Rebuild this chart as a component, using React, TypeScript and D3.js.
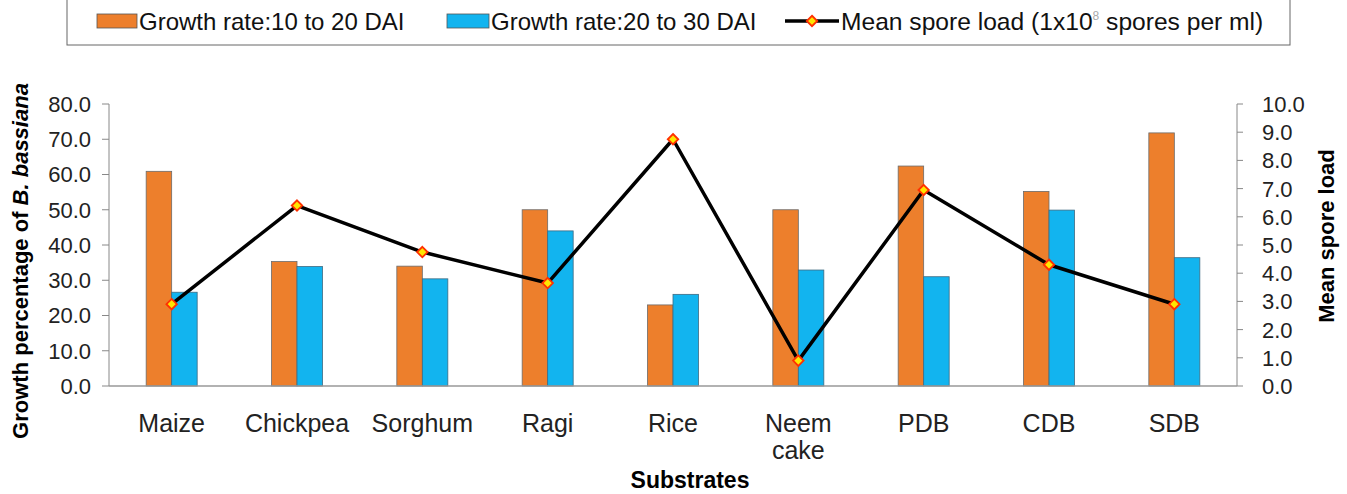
import React from "react";
import * as d3 from "d3";

const categories = ["Maize", "Chickpea", "Sorghum", "Ragi", "Rice", "Neem cake", "PDB", "CDB", "SDB"];
const growth10to20 = [60.9, 35.3, 34.0, 50.0, 23.0, 50.0, 62.4, 55.2, 71.8];
const growth20to30 = [26.6, 33.9, 30.4, 44.0, 26.0, 32.9, 31.0, 49.9, 36.4];
const sporeLoad = [2.9, 6.4, 4.75, 3.65, 8.75, 0.9, 6.95, 4.3, 2.9];
const leftTicks = [0, 10, 20, 30, 40, 50, 60, 70, 80];
const rightTicks = [0, 1, 2, 3, 4, 5, 6, 7, 8, 9, 10];

const W = 1347;
const H = 494;
const X0 = 109;
const X1 = 1237;
const Y0 = 386;
const Y1 = 104;
const ORANGE = "#ED7F2C";
const BLUE = "#12B4EF";
const FONT = "'Liberation Sans', Arial, sans-serif";

export default function App() {
  const x = d3.scaleBand<string>().domain(categories).range([X0, X1]).paddingInner(0).paddingOuter(0);
  const yL = d3.scaleLinear().domain([0, 80]).range([Y0, Y1]);
  const yR = d3.scaleLinear().domain([0, 10]).range([Y0, Y1]);
  const barW = 25.5;
  const cx = (c: string) => (x(c) as number) + x.bandwidth() / 2;
  const line = d3
    .line<number>()
    .x((_, i) => cx(categories[i]))
    .y((d) => yR(d));
  const diamond = d3.symbol().type(d3.symbolDiamond2).size(70)();

  return (
    <svg width={W} height={H} style={{ position: "absolute", left: 0, top: 0, background: "#fff" }} fontFamily={FONT}>
      {/* Legend */}
      <rect x={67} y={-2} width={1223} height={47} fill="#fff" stroke="#666" strokeWidth={1} />
      <rect x={97} y={14} width={40} height={14} fill={ORANGE} stroke="#555" strokeWidth={0.8} />
      <text x={139} y={30} fontSize={24} fill="#111">Growth rate:10 to 20 DAI</text>
      <rect x={447} y={14} width={42} height={14} fill={BLUE} stroke="#555" strokeWidth={0.8} />
      <text x={491} y={30} fontSize={24} fill="#111">Growth rate:20 to 30 DAI</text>
      <line x1={785} x2={839} y1={21} y2={21} stroke="#000" strokeWidth={3.5} />
      <path d={diamond} transform="translate(812,21)" fill="#FFE600" stroke="#FF3000" strokeWidth={1.8} />
      <text x={841} y={30} fontSize={24.6} fill="#111">
        Mean spore load (1x10<tspan dy={-10} fontSize={12} fill="#aaa">8</tspan>
        <tspan dy={10}>{"  spores per ml)"}</tspan>
      </text>

      {/* Left axis */}
      <line x1={X0} x2={X0} y1={Y1} y2={Y0} stroke="#888" strokeWidth={1} />
      {leftTicks.map((t) => (
        <g key={"l" + t}>
          <line x1={X0 - 7} x2={X0} y1={yL(t)} y2={yL(t)} stroke="#888" />
          <text x={91} y={yL(t)} dy="0.36em" textAnchor="end" fontSize={22} fill="#222">
            {t.toFixed(1)}
          </text>
        </g>
      ))}
      {/* Right axis */}
      <line x1={X1} x2={X1} y1={Y1} y2={Y0} stroke="#888" strokeWidth={1} />
      {rightTicks.map((t) => (
        <g key={"r" + t}>
          <line x1={X1} x2={X1 + 6} y1={yR(t)} y2={yR(t)} stroke="#888" />
          <text x={1262} y={yR(t)} dy="0.36em" textAnchor="start" fontSize={22} fill="#222">
            {t.toFixed(1)}
          </text>
        </g>
      ))}

      {/* Bars */}
      {categories.map((c, i) => (
        <g key={c}>
          <rect x={cx(c) - barW} y={yL(growth10to20[i])} width={barW} height={Y0 - yL(growth10to20[i])} fill={ORANGE} stroke="#6b6b6b" strokeWidth={0.8} />
          <rect x={cx(c)} y={yL(growth20to30[i])} width={barW} height={Y0 - yL(growth20to30[i])} fill={BLUE} stroke="#3f6a80" strokeWidth={0.8} />
        </g>
      ))}

      {/* X axis */}
      <line x1={X0} x2={X1} y1={Y0} y2={Y0} stroke="#999" strokeWidth={1.5} />

      {/* Line */}
      <path d={line(sporeLoad) || ""} fill="none" stroke="#000" strokeWidth={3.5} strokeLinejoin="round" />
      {sporeLoad.map((v, i) => (
        <path key={"m" + i} d={diamond} transform={`translate(${cx(categories[i])},${yR(v)})`} fill="#FFE600" stroke="#FF3000" strokeWidth={1.8} />
      ))}

      {/* Category labels */}
      {categories.map((c) => {
        const parts = c.split(" ");
        return (
          <text key={"c" + c} x={cx(c)} y={432} textAnchor="middle" fontSize={25} fill="#222">
            {parts.map((p, j) => (
              <tspan key={j} x={cx(c)} dy={j === 0 ? 0 : 27}>
                {p}
              </tspan>
            ))}
          </text>
        );
      })}

      {/* Axis titles */}
      <text x={690} y={488} textAnchor="middle" fontSize={23} fontWeight="bold" fill="#000">Substrates</text>
      <text transform="translate(28,261) rotate(-90)" textAnchor="middle" fontSize={22} fontWeight="bold" fill="#000">
        Growth percentage of <tspan fontStyle="italic">B. bassiana</tspan>
      </text>
      <text transform="translate(1334,236) rotate(-90)" textAnchor="middle" fontSize={22} fontWeight="bold" fill="#000">
        Mean spore load
      </text>
    </svg>
  );
}
